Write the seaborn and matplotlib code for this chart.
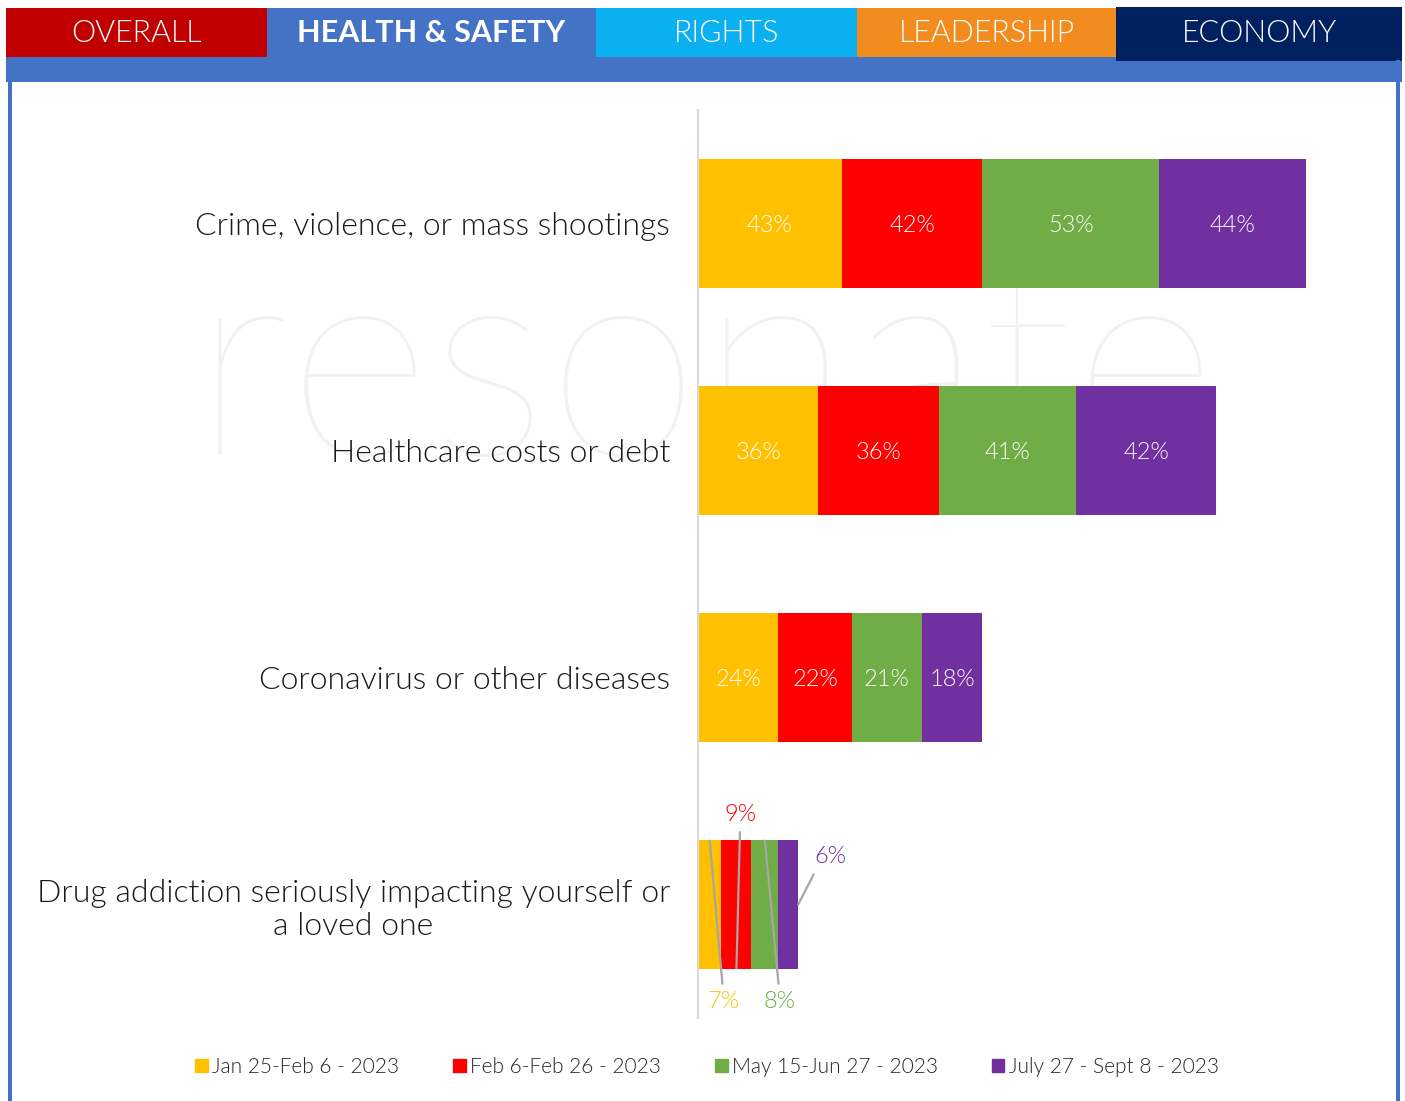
import pandas as pd
import seaborn as sns
import matplotlib.pyplot as plt
from matplotlib.patches import Rectangle

# ===========================
# DATA
# ===========================

categories = [
    "Crime, violence, or mass shootings",
    "Healthcare costs or debt",
    "Coronavirus or other diseases",
    "Drug addiction seriously impacting yourself or\na loved one",
]
waves = [
    "Jan 25-Feb 6 - 2023",
    "Feb 6-Feb 26 - 2023",
    "May 15-Jun 27 - 2023",
    "July 27 - Sept 8 - 2023",
]
jan_feb = [43, 36, 24, 7]
feb = [42, 36, 22, 9]
may_jun = [53, 41, 21, 8]
jul_sep = [44, 42, 18, 6]

tabs = ["OVERALL", "HEALTH & SAFETY", "RIGHTS", "LEADERSHIP", "ECONOMY"]

colors = ["#FFC000", "#FF0000", "#70AD47", "#7030A0"]
tab_colors = ["#C00000", "#4472C4", "#0BB0F0", "#F28C1F", "#002060"]

# ===========================
# FIGURE
# ===========================

sns.set_theme(style="white")
plt.rcParams["font.family"] = ["Lato", "DejaVu Sans"]
LIGHT = 300

W, H = 1405, 1101
fig = plt.figure(figsize=(W / 100, H / 100), dpi=100)


def px_rect(x0, y0, x1, y1, color, z=1):
    fig.patches.append(Rectangle((x0 / W, 1 - y1 / H), (x1 - x0) / W, (y1 - y0) / H,
                                 transform=fig.transFigure, color=color, zorder=z, lw=0))


# header tabs
tab_edges = [6, 267, 596, 857, 1116, 1402]
px_rect(6, 57, 1402, 82, "#4472C4")
for i, name in enumerate(tabs):
    top, bot = (7, 61) if name == "ECONOMY" else (8, 57)
    px_rect(tab_edges[i], top, tab_edges[i + 1], bot, tab_colors[i])
    fig.text((tab_edges[i] + tab_edges[i + 1]) / 2 / W, 1 - 33 / H, name,
             color="white", fontsize=22, ha="center", va="center",
             fontweight="bold" if name == "HEALTH & SAFETY" else LIGHT, zorder=3)

# panel borders
px_rect(8, 60, 12, 1101, "#4472C4")
px_rect(1396, 60, 1400, 1101, "#4472C4")

# watermark (behind the bars)
fig.text(705 / W, 1 - 380 / H, "resonate", color="#f1f1f1", fontsize=200,
         fontweight=100, ha="center", va="center", zorder=-1)

# ===========================
# STACKED BARS
# ===========================

df = pd.DataFrame({waves[0]: jan_feb, waves[1]: feb, waves[2]: may_jun, waves[3]: jul_sep},
                  index=categories)
cum = df.cumsum(axis=1)

ax = fig.add_axes([698 / W, 1 - 1018 / H, 692 / W, 908 / H])
ax.set_facecolor("none")
ax.set_zorder(2)

for col, c in reversed(list(zip(waves, colors))):
    sns.barplot(x=cum[col].values, y=categories, color=c, orient="h",
                width=0.564, linewidth=0, saturation=1, ax=ax)

ax.set_xlim(0, 207)
ax.set_ylim(3.5, -0.5)

# value labels inside bars
for i, cat in enumerate(categories):
    if i == 3:
        continue
    for col in waves:
        v = df.loc[cat, col]
        ax.text(cum.loc[cat, col] - v / 2, i + 0.01, f"{v}%", color="white",
                fontsize=17, fontweight=LIGHT, ha="center", va="center")

# callouts for the thin drug addiction row
half = 0.564 / 2
callouts = [
    # wave index, anchor y, label offset (dx, dy), text relpos
    (0, 3 - half, (4.0, 0.71), (0.5, 1)),
    (1, 3 + half, (1.1, -0.68), (0.5, 0)),
    (2, 3 - half, (4.3, 0.71), (0.5, 1)),
    (3, 3.0, (12.5, -0.21), (0.1, 0)),
]
row = categories[3]
for k, ay, (dx, dy), rp in callouts:
    v = df.loc[row, waves[k]]
    ax_x = cum.loc[row, waves[k]] - (0 if k == 3 else v / 2)
    ax.annotate(f"{v}%", xy=(ax_x, ay), xytext=(cum.loc[row, waves[k]] - v / 2 + dx, ay + dy),
                color=colors[k], fontsize=17, fontweight=LIGHT, ha="center", va="center",
                arrowprops=dict(arrowstyle="-", color="#A6A6A6", lw=1.6,
                                shrinkA=3, shrinkB=0, relpos=rp),
                annotation_clip=False)

# axes styling
sns.despine(ax=ax, left=False, bottom=True, top=True, right=True)
ax.spines["left"].set_color("#D9D9D9")
ax.spines["left"].set_linewidth(1.5)
ax.set_xticks([])
ax.set_xlabel("")
ax.tick_params(axis="y", length=0, pad=20)
ax.set_yticks(range(len(categories)))
ax.set_yticklabels(categories, fontsize=23, fontweight=LIGHT, color="#1a1a1a")
ax.get_yticklabels()[3].set_multialignment("center")

# legend
handles = [Rectangle((0, 0), 1, 1, color=c) for c in colors]
fig.legend(handles, waves, loc="center", bbox_to_anchor=(707 / W, 1 - 1067 / H),
           ncol=4, frameon=False, handlelength=0.6, handleheight=0.6,
           handletextpad=0.2, columnspacing=2.6, labelcolor="#262626",
           prop={"weight": LIGHT, "size": 15})

fig.savefig("out.png", dpi=100)
